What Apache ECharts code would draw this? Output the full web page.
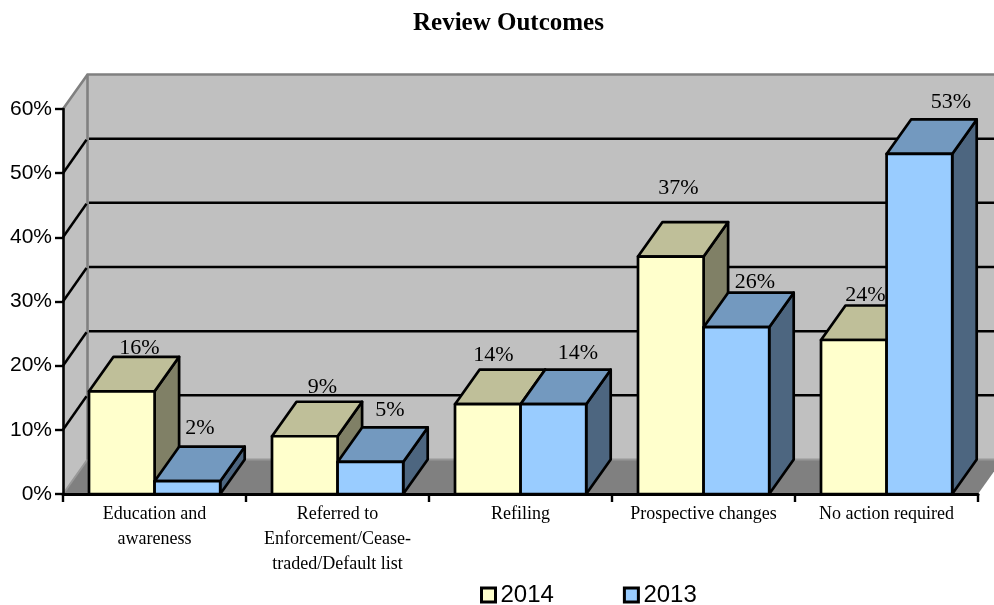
<!DOCTYPE html>
<html>
<head>
<meta charset="utf-8">
<style>html,body{margin:0;padding:0;background:#fff}#c{width:994px;height:605px}</style>
<script src="https://cdn.jsdelivr.net/npm/echarts@6/dist/echarts.min.js"></script>
</head>
<body>
<div id="c"></div>
<script>
const categories = ['Education and\nawareness','Referred to\nEnforcement/Cease-\ntraded/Default list','Refiling','Prospective changes','No action required'];
const values2014 = [16, 9, 14, 37, 24];
const values2013 = [2, 5, 14, 26, 53];
const gridValues = [10, 20, 30, 40, 50];
const yMin = 0, yMax = 60, yStep = 10;

// layout only
const DX = 24.5, DY = -34.5, BAR_W = 65.6, BAR_GAP = 26;
const labelNudge2014 = [[17.5,-43.5],[17.5,-49.5],[5.5,-48.5],[7.5,-68.5],[11.5,-44.5]];
const labelNudge2013 = [[12.5,-52.5],[19.5,-51.5],[24.5,-50.5],[18.5,-44.5],[31.5,-51.5]];
const serif = '"Liberation Serif","Times New Roman",serif';
const sans = '"Liberation Sans",Arial,sans-serif';

function catLeft(api, i){ return api.coord([i, 0])[0] - api.size([1, 0])[0] / 2; }
function poly(points, fill){
  return {type:'polygon', shape:{points}, style:{fill, stroke:'#000', lineWidth:2.7, lineJoin:'round'}};
}
function wallItem(params, api){
  const l = catLeft(api, 0), r = catLeft(api, categories.length);
  const y0 = api.coord([0, yMin])[1], y1 = api.coord([0, yMax])[1];
  const edge = {stroke:'#808080', lineWidth:2.6, fill:'none'};
  return {type:'group', children:[
    {type:'polygon', shape:{points:[[l+DX,y1+DY],[r+DX,y1+DY],[r+DX,y0+DY],[l+DX,y0+DY]]}, style:{fill:'#c0c0c0'}},
    {type:'polygon', shape:{points:[[l,y1],[l+DX,y1+DY],[l+DX,y0+DY],[l,y0]]}, style:{fill:'#c0c0c0'}},
    {type:'polygon', shape:{points:[[l,y0],[l+DX,y0+DY],[r+DX,y0+DY],[r,y0]]}, style:{fill:'#808080'}},
    {type:'polyline', shape:{points:[[l,y0],[l+DX,y0+DY],[r+DX,y0+DY]]}, style:{stroke:'#989898', lineWidth:2, fill:'none'}},
    {type:'polyline', shape:{points:[[l,y1],[l+DX,y1+DY],[r+DX,y1+DY]]}, style:edge},
    {type:'line', shape:{x1:l+DX,y1:y1+DY,x2:l+DX,y2:y0+DY}, style:edge}
  ]};
}
function gridItem(params, api){
  const l = catLeft(api, 0);
  const y = api.coord([0, api.value(1)])[1];
  return {type:'polyline', shape:{points:[[l,y],[l+DX-1,y+DY+1]]}, style:{stroke:'#000', lineWidth:2.5, fill:'none'}};
}
function gridBackItem(params, api){
  const l = catLeft(api, 0), r = catLeft(api, categories.length);
  const y = api.coord([0, api.value(1)])[1];
  return {type:'line', shape:{x1:l+DX+1.5,y1:y+DY,x2:r+DX,y2:y+DY}, style:{stroke:'#000', lineWidth:2.5}};
}
function barRenderer(slot, front, top, side){
  return function(params, api){
    const i = api.value(0);
    const x0 = catLeft(api, i) + BAR_GAP + slot * BAR_W, x1 = x0 + BAR_W;
    const yb = api.coord([i, 0])[1], yt = api.coord([i, api.value(1)])[1];
    return {type:'group', children:[
      poly([[x1,yt],[x1+DX,yt+DY],[x1+DX,yb+DY],[x1,yb]], side),
      poly([[x0,yt],[x0+DX,yt+DY],[x1+DX,yt+DY],[x1,yt]], top),
      poly([[x0,yt],[x1,yt],[x1,yb],[x0,yb]], front)
    ]};
  };
}
function labelRenderer(slot){
  return function(params, api){
    const i = api.value(0);
    const x = catLeft(api, i) + BAR_GAP + (slot + 0.5) * BAR_W + api.value(2);
    const y = api.coord([i, api.value(1)])[1] + api.value(3);
    return {type:'text', style:{text:api.value(1) + '%', x, y, align:'center', verticalAlign:'middle', fill:'#000', font:'22px ' + serif}};
  };
}
const bars = (vals) => vals.map((v, i) => [i, v]);
const labelled = (vals, nudge) => vals.map((v, i) => [i, v, nudge[i][0], nudge[i][1]]);
const hidden = {silent:true, tooltip:{show:false}};

const chart = echarts.init(document.getElementById('c'), null, {renderer:'canvas'});
chart.setOption({
  animation:false,
  backgroundColor:'#fff',
  title:{text:'Review Outcomes', left:408, top:6,
    textStyle:{fontFamily:serif, fontWeight:'bold', fontSize:25, color:'#000'}},
  legend:{left:475, top:578, itemWidth:14, itemHeight:14, itemGap:69, icon:'rect',
    itemStyle:{borderColor:'#000', borderWidth:3},
    data:['2014','2013'], textStyle:{fontFamily:sans, fontSize:24, color:'#000'}},
  grid:{left:63, right:16, top:109, bottom:111, containLabel:false},
  xAxis:{type:'category', data:categories, z:3,
    axisLine:{lineStyle:{color:'#000', width:3}},
    axisTick:{show:true, length:8, lineStyle:{color:'#000', width:2.4}},
    axisLabel:{interval:0, margin:8, fontFamily:serif, fontSize:18, lineHeight:25, color:'#000'},
    splitLine:{show:false}},
  yAxis:{type:'value', min:yMin, max:yMax, interval:yStep, z:3,
    axisLine:{show:true, lineStyle:{color:'#000', width:2.6}},
    axisTick:{show:true, length:8, lineStyle:{color:'#000', width:2.4}},
    axisLabel:{margin:11, fontFamily:sans, fontSize:21, color:'#000', formatter:'{value}%'},
    splitLine:{show:false}},
  series:[
    {type:'custom', name:'wall', z:1, ...hidden, renderItem:wallItem, data:[[0,0]], encode:{x:0,y:1}, clip:false},
    {type:'custom', name:'gridBack', z:1, ...hidden, renderItem:gridBackItem, data:gridValues.map(v=>[0,v]), encode:{x:0,y:1}},
    {type:'custom', name:'gridSide', z:1, ...hidden, renderItem:gridItem, data:gridValues.map(v=>[0,v]), encode:{x:0,y:1}},
    {type:'custom', name:'2014', z:2, renderItem:barRenderer(0,'#FFFFCC','#BFBF99','#808066'),
      data:bars(values2014), encode:{x:0,y:1}, itemStyle:{color:'#FFFFCC', borderColor:'#000', borderWidth:3}},
    {type:'custom', name:'2013', z:2, renderItem:barRenderer(1,'#99CCFF','#7399BF','#4D6680'),
      data:bars(values2013), encode:{x:0,y:1}, itemStyle:{color:'#99CCFF', borderColor:'#000', borderWidth:3}},
    {type:'custom', name:'labels2014', z:4, ...hidden, renderItem:labelRenderer(0), data:labelled(values2014,labelNudge2014), encode:{x:0,y:1}},
    {type:'custom', name:'labels2013', z:4, ...hidden, renderItem:labelRenderer(1), data:labelled(values2013,labelNudge2013), encode:{x:0,y:1}}
  ]
});
</script>
</body>
</html>
